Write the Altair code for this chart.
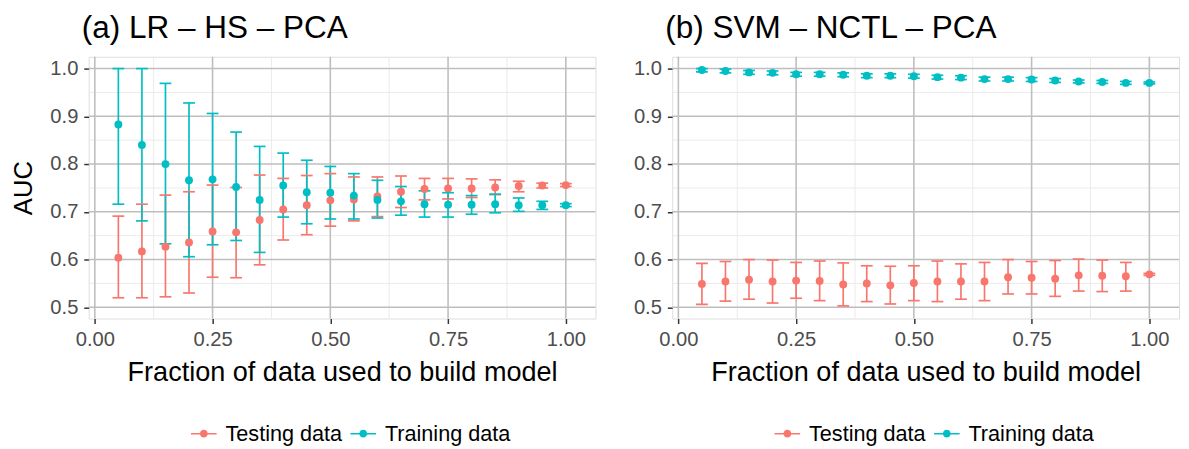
import altair as alt
import pandas as pd

fraction = [0.05, 0.10, 0.15, 0.20, 0.25, 0.30, 0.35, 0.40, 0.45, 0.50,
            0.55, 0.60, 0.65, 0.70, 0.75, 0.80, 0.85, 0.90, 0.95, 1.00]
series = ["Testing data", "Training data"]
colors = ["#F8766D", "#00BFC4"]

# Panel (a) LR - HS - PCA
a_test_auc = [0.604, 0.617, 0.627, 0.636, 0.659, 0.657, 0.683, 0.705, 0.714, 0.724,
              0.726, 0.732, 0.742, 0.748, 0.749, 0.749, 0.751, 0.754, 0.755, 0.756]
a_test_lo = [0.520, 0.520, 0.522, 0.530, 0.563, 0.562, 0.589, 0.641, 0.652, 0.670,
             0.681, 0.690, 0.709, 0.725, 0.727, 0.730, 0.736, 0.742, 0.750, 0.753]
a_test_hi = [0.691, 0.716, 0.735, 0.742, 0.756, 0.751, 0.777, 0.770, 0.776, 0.780,
             0.773, 0.773, 0.775, 0.770, 0.770, 0.769, 0.767, 0.764, 0.760, 0.759]
a_train_auc = [0.883, 0.840, 0.800, 0.766, 0.768, 0.752, 0.725, 0.755, 0.741, 0.740,
               0.734, 0.725, 0.722, 0.716, 0.715, 0.715, 0.716, 0.714, 0.714, 0.714]
a_train_lo = [0.716, 0.681, 0.633, 0.606, 0.631, 0.640, 0.615, 0.689, 0.675, 0.685,
              0.685, 0.687, 0.693, 0.689, 0.689, 0.695, 0.698, 0.701, 0.705, 0.711]
a_train_hi = [1.000, 1.000, 0.969, 0.928, 0.906, 0.867, 0.837, 0.823, 0.808, 0.795,
              0.780, 0.766, 0.753, 0.744, 0.740, 0.734, 0.737, 0.729, 0.722, 0.717]

# Panel (b) SVM - NCTL - PCA
b_test_auc = [0.549, 0.554, 0.558, 0.554, 0.556, 0.555, 0.548, 0.550, 0.546, 0.551,
              0.554, 0.554, 0.554, 0.563, 0.562, 0.560, 0.567, 0.566, 0.565, 0.569]
b_test_lo = [0.506, 0.513, 0.517, 0.509, 0.519, 0.514, 0.503, 0.512, 0.507, 0.514,
             0.512, 0.517, 0.514, 0.528, 0.528, 0.523, 0.534, 0.533, 0.534, 0.567]
b_test_hi = [0.592, 0.596, 0.600, 0.599, 0.594, 0.597, 0.593, 0.587, 0.586, 0.587,
             0.597, 0.591, 0.594, 0.600, 0.596, 0.598, 0.601, 0.599, 0.594, 0.571]
b_train_auc = [0.997, 0.995, 0.992, 0.991, 0.988, 0.988, 0.987, 0.985, 0.985, 0.984,
               0.982, 0.981, 0.978, 0.978, 0.977, 0.975, 0.973, 0.972, 0.970, 0.970]
b_train_lo = [0.993, 0.991, 0.988, 0.987, 0.984, 0.984, 0.983, 0.981, 0.981, 0.980,
              0.978, 0.977, 0.974, 0.974, 0.973, 0.971, 0.970, 0.969, 0.967, 0.968]
b_train_hi = [1.000, 0.999, 0.996, 0.995, 0.992, 0.992, 0.991, 0.989, 0.989, 0.988,
              0.986, 0.985, 0.982, 0.982, 0.981, 0.979, 0.976, 0.975, 0.973, 0.972]

x_ticks = [0.0, 0.25, 0.5, 0.75, 1.0]
x_minor = [0.125, 0.375, 0.625, 0.875]
y_ticks = [0.5, 0.6, 0.7, 0.8, 0.9, 1.0]
y_minor = [0.55, 0.65, 0.75, 0.85, 0.95]

FONT = "Liberation Sans"
W, H = 515, 266
X_DOMAIN = [-0.013, 1.063]
Y_DOMAIN = [0.4765, 1.0247]

LEGEND_PATH = ("M-1,-0.06H1V0.06H-1Z"
               "M0.3,0A0.3,0.3,0,1,1,-0.3,0A0.3,0.3,0,1,1,0.3,0Z")


def make_df(test_auc, test_lo, test_hi, train_auc, train_lo, train_hi):
    rows = []
    for s, auc, lo, hi in [(series[0], test_auc, test_lo, test_hi),
                           (series[1], train_auc, train_lo, train_hi)]:
        for f, a, l, h in zip(fraction, auc, lo, hi):
            rows.append({"fraction": f, "auc": a, "lo": l, "hi": h, "series": s})
    return pd.DataFrame(rows)


def panel(df, title, ytitle, title_dx):
    xs = alt.Scale(domain=X_DOMAIN, nice=False, zero=False)
    ys = alt.Scale(domain=Y_DOMAIN, nice=False, zero=False)
    xaxis = alt.Axis(values=x_ticks, format=".2f", grid=False, domain=False,
                     title="Fraction of data used to build model",
                     tickColor="#333333", tickWidth=1.5, tickSize=5,
                     labelFont=FONT, labelFontSize=20.5, labelColor="#4D4D4D",
                     labelPadding=6, titleFont=FONT, titleFontSize=27.5,
                     titleFontWeight="normal", titleColor="#000000", titlePadding=9)
    yaxis_kw = dict(values=y_ticks, format=".1f", grid=False, domain=False,
                    tickColor="#333333", tickWidth=1.5, tickSize=5,
                    labelFont=FONT, labelFontSize=20.5, labelColor="#4D4D4D",
                    labelPadding=6, titleFont=FONT, titleFontSize=26,
                    titleFontWeight="normal", titleColor="#000000", titlePadding=14)
    if ytitle:
        yaxis = alt.Axis(title=ytitle, **yaxis_kw)
    else:
        yaxis = alt.Axis(title=None, **yaxis_kw)

    cscale = alt.Scale(domain=series, range=colors)
    legend = alt.Legend(
        title=None, orient="none", legendX=104, legendY=370,
        direction="horizontal", symbolType=LEGEND_PATH, symbolSize=676,
        symbolStrokeWidth=0, symbolOpacity=1, labelFont=FONT,
        labelFontSize=22, labelColor="#000000", labelOffset=9,
        columnPadding=8)
    color = alt.Color("series:N", scale=cscale, legend=legend)

    minor_x = alt.Chart(pd.DataFrame({"v": x_minor})).mark_rule(
        color="#EBEBEB", strokeWidth=1).encode(x=alt.X("v:Q", scale=xs, axis=xaxis))
    minor_y = alt.Chart(pd.DataFrame({"v": y_minor})).mark_rule(
        color="#EBEBEB", strokeWidth=1).encode(y=alt.Y("v:Q", scale=ys, axis=yaxis))
    major_x = alt.Chart(pd.DataFrame({"v": x_ticks})).mark_rule(
        color="#BEBEBE", strokeWidth=1.6).encode(x=alt.X("v:Q", scale=xs, axis=xaxis))
    major_y = alt.Chart(pd.DataFrame({"v": y_ticks})).mark_rule(
        color="#BEBEBE", strokeWidth=1.6).encode(y=alt.Y("v:Q", scale=ys, axis=yaxis))

    base = alt.Chart(df)
    bars = base.mark_rule(strokeWidth=1.7).encode(
        x=alt.X("fraction:Q", scale=xs, axis=xaxis),
        y=alt.Y("lo:Q", scale=ys, axis=yaxis),
        y2="hi:Q",
        color=color,
    )
    cap_lo = base.mark_tick(orient="horizontal", size=12, thickness=1.7, opacity=1).encode(
        x=alt.X("fraction:Q", scale=xs, axis=xaxis),
        y=alt.Y("lo:Q", scale=ys, axis=yaxis),
        color=color,
    )
    cap_hi = base.mark_tick(orient="horizontal", size=12, thickness=1.7, opacity=1).encode(
        x=alt.X("fraction:Q", scale=xs, axis=xaxis),
        y=alt.Y("hi:Q", scale=ys, axis=yaxis),
        color=color,
    )
    pts = base.mark_circle(size=64, opacity=1).encode(
        x=alt.X("fraction:Q", scale=xs, axis=xaxis),
        y=alt.Y("auc:Q", scale=ys, axis=yaxis),
        color=color,
    )
    return alt.layer(minor_x, minor_y, major_x, major_y, bars, cap_lo, cap_hi, pts).properties(
        width=W, height=H,
        title=alt.TitleParams(title, anchor="start", frame="group", font=FONT,
                              fontSize=32, fontWeight="normal", color="#000000",
                              offset=11, dx=title_dx),
    )


df_a = make_df(a_test_auc, a_test_lo, a_test_hi, a_train_auc, a_train_lo, a_train_hi)
df_b = make_df(b_test_auc, b_test_lo, b_test_hi, b_train_auc, b_train_lo, b_train_hi)

chart = alt.hconcat(
    panel(df_a, "(a) LR \u2013 HS \u2013 PCA", "AUC", -7),
    panel(df_b, "(b) SVM \u2013 NCTL \u2013 PCA", None, -7),
    spacing=36,
).resolve_legend(color="independent").resolve_scale(color="independent").properties(
    padding={"left": 2, "top": 0, "right": 0, "bottom": 0}
).configure_view(stroke="#333333", strokeWidth=1.5).configure(font=FONT)

chart.save("out.html", embed_options={"renderer": "svg", "actions": False})
